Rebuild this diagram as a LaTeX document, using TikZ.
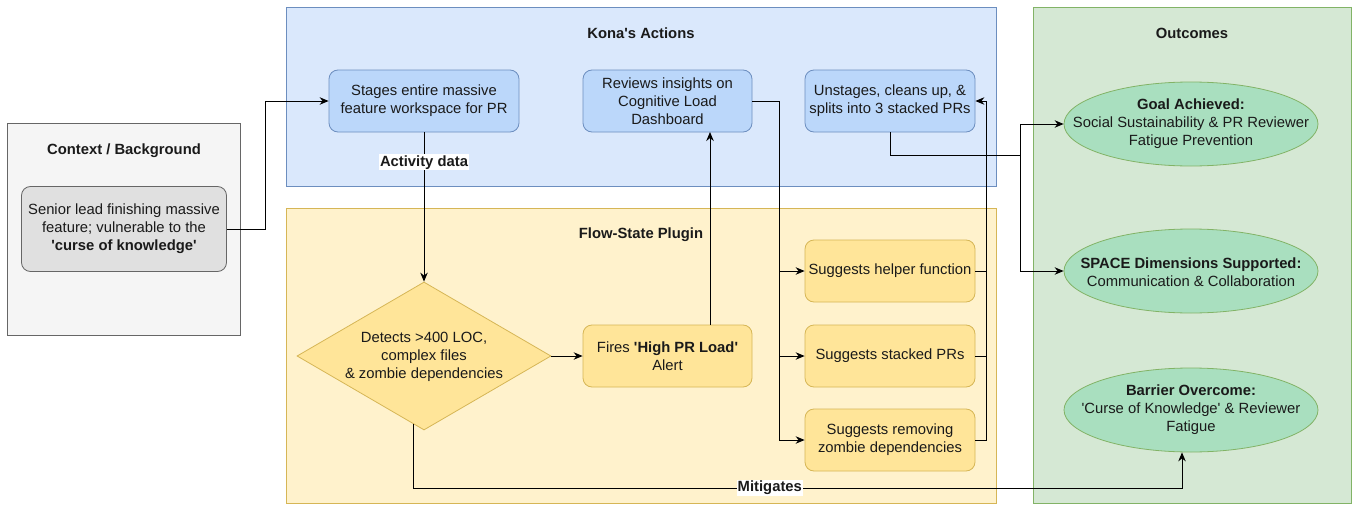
\documentclass[tikz,border=0pt]{standalone}
\usepackage{fontspec}
\setmainfont{Liberation Sans}[Ligatures=TeXOff]
\usetikzlibrary{shapes.geometric,arrows.meta,calc}
\definecolor{ctxbg}{HTML}{F5F5F5}
\definecolor{ctxline}{HTML}{666666}
\definecolor{bluebg}{HTML}{DAE8FC}
\definecolor{blueline}{HTML}{6C8EBF}
\definecolor{bluenode}{HTML}{BBD7FA}
\definecolor{yelbg}{HTML}{FFF2CC}
\definecolor{yelline}{HTML}{D6B656}
\definecolor{yelnode}{HTML}{FFE599}
\definecolor{grnbg}{HTML}{D5E8D4}
\definecolor{grnline}{HTML}{82B366}
\definecolor{grnnode}{HTML}{A9DFBF}
\definecolor{graynode}{HTML}{E0E0E0}
\definecolor{txt}{HTML}{1A1A1A}
\begin{document}
\begin{tikzpicture}[x=1pt,y=-1pt,
  base/.style={font=\fontsize{14.8}{18}\selectfont, align=center, inner sep=0pt, text=txt},
  panel/.style={rectangle, draw=#1line, fill=#1bg, line width=0.9pt, inner sep=0pt},
  ttl/.style={base, font=\fontsize{14.8}{18}\selectfont\bfseries},
  box/.style={base, rectangle, rounded corners=9pt, line width=0.8pt, minimum height=62pt},
  bbox/.style={box, draw=blueline, fill=bluenode, minimum width=170pt},
  ybox/.style={box, draw=yelline, fill=yelnode, minimum width=170pt},
  gell/.style={ellipse, draw=grnline, fill=grnnode, line width=0.8pt, inner sep=0pt, minimum width=254pt, minimum height=84pt},
  arr/.style={draw=black, line width=1pt, -{Stealth[length=9pt,width=7.5pt]}},
  ln/.style={draw=black, line width=1pt},
  elab/.style={base, font=\fontsize{14.8}{18}\selectfont\bfseries, fill=white, inner sep=1pt}
]
\useasboundingbox (0,0) rectangle (1353,506);
% panels
\node[panel=ctx, minimum width=233pt, minimum height=212pt] (ctxp) at (124,229) {};
\node[panel=blue, minimum width=710pt, minimum height=179pt] (konap) at (641,96.5) {};
\node[panel=yel, minimum width=710pt, minimum height=295pt] (flowp) at (641,355.5) {};
\node[panel=grn, minimum width=318pt, minimum height=496pt] (outp) at (1192,255) {};
\node[ttl] (ctxt) at (124,150.5) {Context / Background};
\node[ttl] (konat) at (641,33) {Kona's Actions};
\node[ttl] (flowt) at (641,235) {Flow-State Plugin};
\node[ttl] (outt) at (1192,33) {Outcomes};
% context node
\node[box, draw=ctxline, fill=graynode, minimum width=205pt, minimum height=85pt] (senior) at (124,229) {Senior lead finishing massive\\feature; vulnerable to the\\\textbf{'curse of knowledge'}};
% kona nodes
\node[bbox, minimum width=190pt] (stage) at (424,101) {Stages entire massive\\feature workspace for PR};
\node[bbox, minimum width=169pt] (reviews) at (667.5,101) {Reviews insights on\\Cognitive Load\\Dashboard};
\node[bbox] (unstage) at (890,101) {Unstages, cleans up, \&\\splits into 3 stacked PRs};
% plugin nodes
\node[diamond, draw=yelline, fill=yelnode, line width=0.8pt, inner sep=0pt, minimum width=254pt, minimum height=148pt] (dia) at (424,356) {};
\node[base] (diat) at (424,357) {Detects >400 LOC,\\complex files\\\& zombie dependencies};
\node[ybox, minimum width=169pt] (fires) at (667.5,356) {Fires \textbf{'High PR Load'}\\Alert};
\node[ybox] (helper) at (890,271) {Suggests helper function};
\node[ybox] (stacked) at (890,356) {Suggests stacked PRs};
\node[ybox] (removing) at (890,440) {Suggests removing\\zombie dependencies};
% outcomes
\node[gell] (goal) at (1191,124) {};
\node[base] (goalt) at (1191,124) {\textbf{Goal Achieved:}\\Social Sustainability \& PR Reviewer\\Fatigue Prevention};
\node[gell] (space) at (1191,271) {};
\node[base] (spacet) at (1191,272) {\textbf{SPACE Dimensions Supported:}\\Communication \& Collaboration};
\node[gell] (barrier) at (1191,410) {};
\node[base] (barriert) at (1191,410) {\textbf{Barrier Overcome:}\\'Curse of Knowledge' \& Reviewer\\Fatigue};
% junction coordinates
\coordinate (sj) at (265,229);
\coordinate (rj) at (779,101);
\coordinate (uj) at (986,101);
\coordinate (oj) at (1020,155);
\coordinate (mj) at (413,488);
\coordinate (fj) at (710,325);
\coordinate (rvb) at (710,132);
\coordinate (dj) at (413,423.6);
% connectors
\draw[arr] (senior.east) -- (sj) |- (stage.west);
\draw[arr] (stage.south) -- (dia.north) node[elab, pos=0.2] (actlab) {Activity data};
\draw[arr] (dia.east) -- (fires.west);
\draw[arr] (fj) -- (rvb);
\draw[arr] (reviews.east) -- (rj) |- (helper.west);
\draw[arr] (rj) |- (stacked.west);
\draw[arr] (rj) |- (removing.west);
\draw[arr] (helper.east) -| (uj) -- (unstage.east);
\draw[ln] (stacked.east) -| (uj);
\draw[ln] (removing.east) -| (uj);
\draw[arr] (unstage.south) |- (oj) |- (goal.west);
\draw[arr] (oj) |- (space.west);
\draw[arr] (dj) -- (mj) -| ([xshift=-9pt]barrier.south) node[elab, pos=0.232] (mitlab) {Mitigates};
\end{tikzpicture}
\end{document}
